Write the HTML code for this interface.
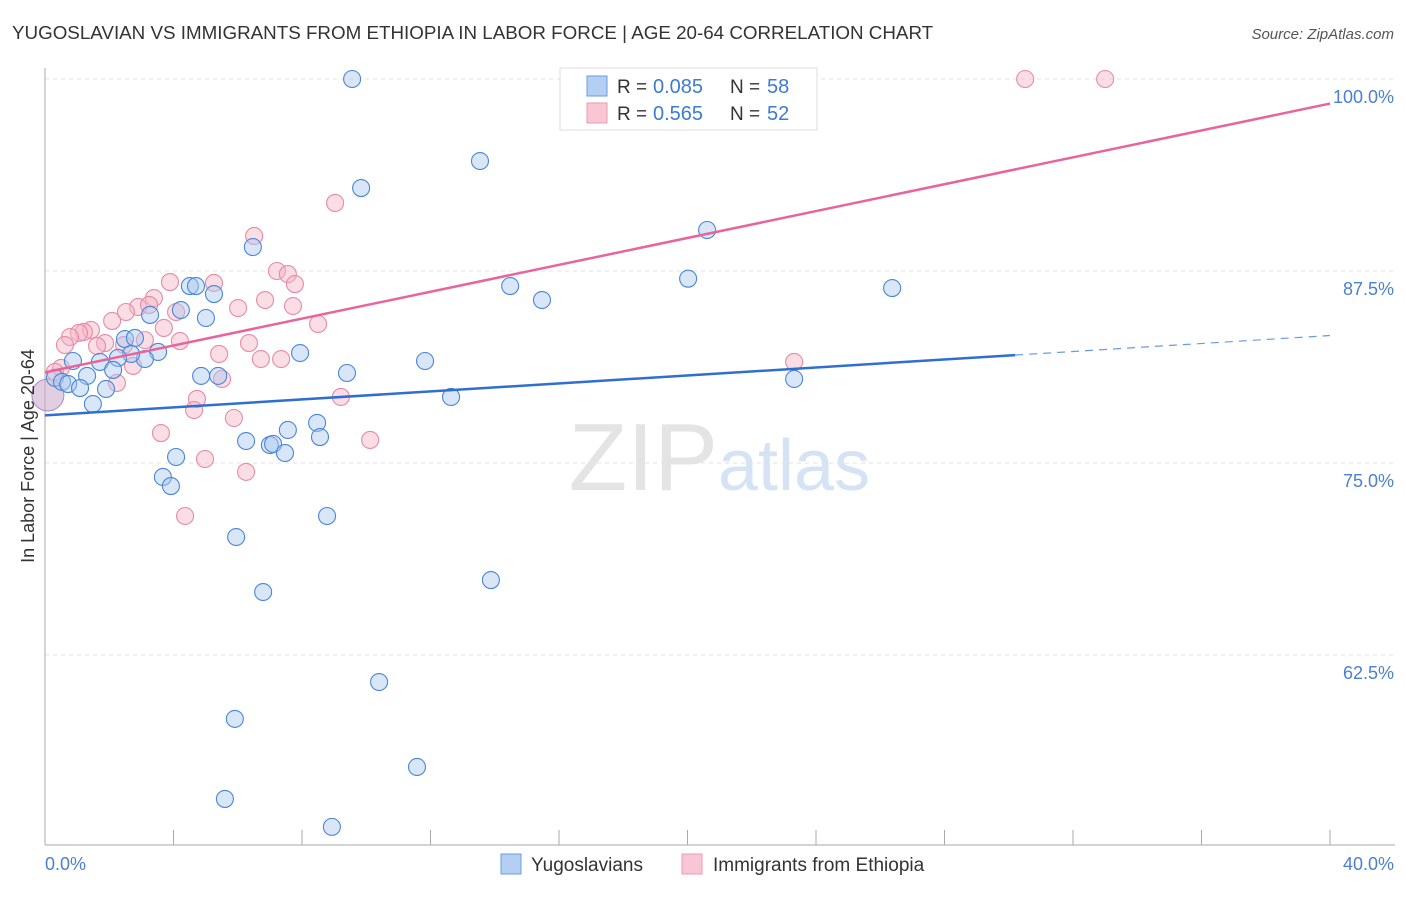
<!DOCTYPE html>
<html><head><meta charset="utf-8"><style>
body{margin:0;background:#fff;font-family:"Liberation Sans",sans-serif}
svg text{font-family:"Liberation Sans",sans-serif}
</style></head><body>
<svg id="chart" width="1406" height="892" xmlns="http://www.w3.org/2000/svg">
<text x="12" y="39" font-size="18.8" fill="#333">YUGOSLAVIAN VS IMMIGRANTS FROM ETHIOPIA IN LABOR FORCE | AGE 20-64 CORRELATION CHART</text>
<text x="1394" y="39" font-size="15" fill="#555" font-style="italic" text-anchor="end">Source: ZipAtlas.com</text>
<g id="grid"></g>
<text x="718" y="490" font-size="96" font-family="Liberation Serif" fill="#e4e4e4" text-anchor="end">ZIP</text>
<text x="718" y="490" font-size="72" fill="#d6e3f5">atlas</text>
<g id="points"></g>
<g id="lines"></g>
<text transform="translate(34,456) rotate(-90)" font-size="18" fill="#333" text-anchor="middle">In Labor Force | Age 20-64</text>
<text x="45" y="870" font-size="18" fill="#4a7fd4">0.0%</text>
<text x="1394" y="870" font-size="18" fill="#4a7fd4" text-anchor="end">40.0%</text>
<g>
<rect x="560" y="68" width="257" height="62" fill="#fff" stroke="#ddd"/>
<rect x="587" y="76" width="20" height="20" fill="#b4cff2" stroke="#6a9be0"/>
<rect x="587" y="103" width="20" height="20" fill="#f8c6d4" stroke="#ec9ab2"/>
<text x="617" y="93" font-size="19" fill="#333">R =</text>
<text x="653" y="93" font-size="20" fill="#3d7ad6">0.085</text>
<text x="730" y="93" font-size="19" fill="#333">N =</text>
<text x="767" y="93" font-size="20" fill="#3d7ad6">58</text>
<text x="617" y="120" font-size="19" fill="#333">R =</text>
<text x="653" y="120" font-size="20" fill="#3d7ad6">0.565</text>
<text x="730" y="120" font-size="19" fill="#333">N =</text>
<text x="767" y="120" font-size="20" fill="#3d7ad6">52</text>
</g>
<g>
<rect x="501" y="854" width="20" height="20" fill="#b4cff2" stroke="#6a9be0"/>
<text x="531" y="871" font-size="19" fill="#333">Yugoslavians</text>
<rect x="682" y="854" width="20" height="20" fill="#f8c6d4" stroke="#ec9ab2"/>
<text x="713" y="871" font-size="19" fill="#333">Immigrants from Ethiopia</text>
</g>
</svg>
<script>
const yTicks=[100,87.5,75,62.5];
const yTickLabels=["100.0%","87.5%","75.0%","62.5%"];
const xTicks=[0,4,8,12,16,20,24,28,32,36,40];
const blueX=[9.56,13.54,9.84,20.61,6.47,20.02,26.37,14.48,15.47,4.51,4.70,5.26,4.23,3.27,5.01,2.49,2.80,3.52,3.11,2.68,2.27,1.71,0.87,7.94,11.83,9.40,2.12,1.31,0.31,0.53,0.72,1.09,1.90,1.49,4.86,5.39,12.64,23.32,8.47,7.56,8.56,6.26,7.00,7.10,7.47,4.08,3.67,3.92,8.78,5.95,13.88,6.79,10.40,5.91,11.58,5.60,8.93];
const blueY=[100,94.66,92.90,90.17,89.06,87.0,86.39,86.52,85.61,86.52,86.52,86.0,84.96,84.64,84.44,83.07,83.14,82.23,81.77,82.10,81.84,81.58,81.64,82.16,81.64,80.86,81.06,80.67,80.54,80.28,80.14,79.88,79.82,78.84,80.67,80.67,79.30,80.47,77.61,77.15,76.69,76.43,76.17,76.24,75.65,75.39,74.09,73.50,71.55,70.18,67.38,66.60,60.74,58.34,55.21,53.13,51.31];
const pinkX=[30.51,33.0,9.03,6.51,7.22,7.56,7.78,3.89,5.26,3.39,6.85,6.01,7.72,2.90,3.24,2.52,4.08,2.09,3.70,1.43,1.21,1.06,0.78,0.62,4.20,1.87,1.62,6.35,8.50,5.42,6.72,7.35,3.11,2.74,2.24,5.51,0.50,0.31,23.32,9.21,4.73,4.64,5.88,3.61,10.12,4.98,6.26,4.36,2.46];
const pinkY=[100,100,91.93,89.78,87.5,87.3,86.65,86.78,86.72,85.74,85.61,85.09,85.22,85.16,85.29,84.83,84.83,84.25,83.79,83.66,83.53,83.47,83.20,82.68,82.94,82.81,82.62,82.81,84.05,82.10,81.77,81.77,83.0,81.32,80.21,80.47,81.19,80.93,81.58,79.30,79.17,78.45,77.93,76.95,76.50,75.26,74.42,71.55,82.68];
const bigPoint=[0.09,79.43];
const blueTrend=[78.1,83.3];
const blueSolidEnd=30.2;
const pinkTrend=[80.9,98.4];
const NS="http://www.w3.org/2000/svg";
const sx=v=>45+v/40*1285;
const sy=v=>79+(100-v)*15.36;
function mk(tag,attrs,parent){const e=document.createElementNS(NS,tag);for(const k in attrs)e.setAttribute(k,attrs[k]);parent.appendChild(e);return e;}
const grid=document.getElementById('grid');
yTicks.forEach((t,i)=>{
 const l=mk('line',{x1:45,x2:1395,y1:sy(t),y2:sy(t),stroke:'#e2e2e2','stroke-dasharray':'4,4'},grid);
 
 
 const tx=mk('text',{x:1394,y:sy(t)+24,'font-size':18,fill:'#4a7fd4','text-anchor':'end'},grid);
 tx.textContent=yTickLabels[i];
 
 
});
const ax=mk('line',{x1:45,x2:45,y1:68,y2:845,stroke:'#aaa'},grid);


const bx=mk('line',{x1:45,x2:1395,y1:845,y2:845,stroke:'#aaa'},grid);


xTicks.forEach(t=>{
 const l=mk('line',{x1:sx(t),x2:sx(t),y1:830,y2:845,stroke:'#aaa'},grid);
 
 
});
const pts=document.getElementById('points');
function dot(x,y,r,fill,stroke,name){
 const c=mk('circle',{cx:sx(x),cy:sy(y),r:r,fill:fill,'fill-opacity':0.45,stroke:stroke,'stroke-width':1.1},pts);
 
 
}
const bb=mk('circle',{cx:sx(bigPoint[0]),cy:sy(bigPoint[1]),r:16,fill:'#c9a8c8','fill-opacity':0.55,stroke:'#a98ac0'},pts);


pinkX.forEach((x,i)=>dot(x,pinkY[i],8.5,'#f5b3c6','#e98aa6','ethiopia-point'));
blueX.forEach((x,i)=>dot(x,blueY[i],8.5,'#a9c8f0','#4a86d8','yugoslavian-point'));
const lines=document.getElementById('lines');
const ly=(tr,x)=>tr[0]+(tr[1]-tr[0])*x/40;
const pl=mk('line',{x1:sx(0),y1:sy(pinkTrend[0]),x2:sx(40),y2:sy(pinkTrend[1]),stroke:'#e8649a','stroke-width':2.5},lines);


const bl=mk('line',{x1:sx(0),y1:sy(blueTrend[0]),x2:sx(blueSolidEnd),y2:sy(ly(blueTrend,blueSolidEnd)),stroke:'#2f6fd1','stroke-width':2.5},lines);


const bd=mk('line',{x1:sx(blueSolidEnd),y1:sy(ly(blueTrend,blueSolidEnd)),x2:sx(40),y2:sy(blueTrend[1]),stroke:'#6a9be0','stroke-width':1.2,'stroke-dasharray':'8,6'},lines);


</script>
</body></html>
